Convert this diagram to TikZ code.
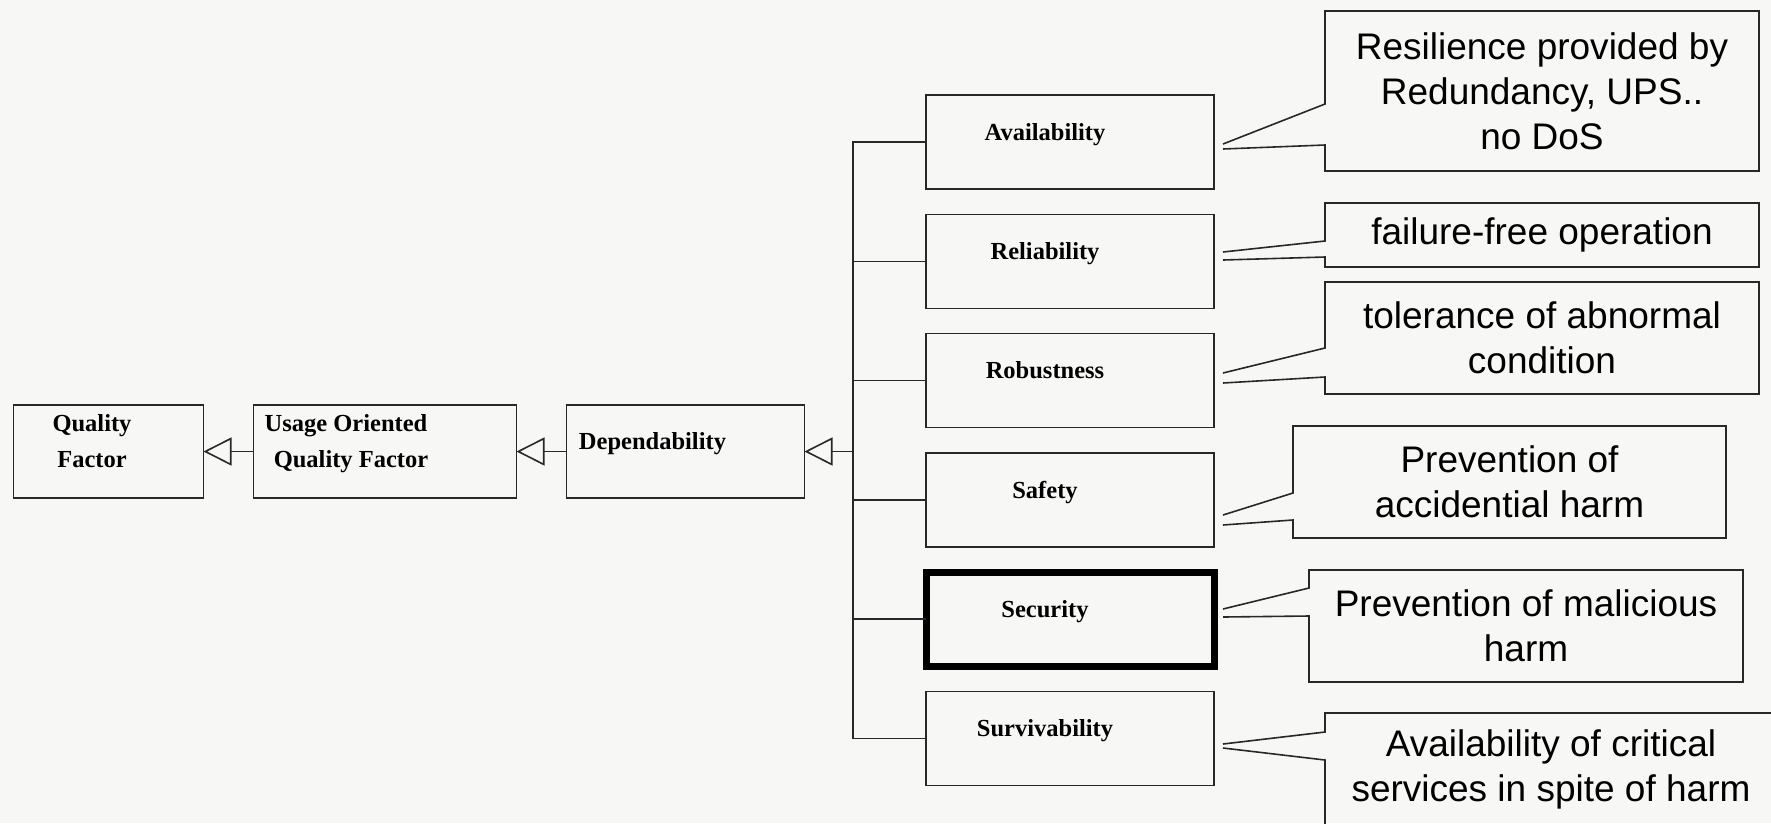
\documentclass[tikz,border=0pt]{standalone}
\usepackage{fontspec}
\setmainfont{Liberation Serif}
\newfontfamily\notefont{Liberation Sans}
\usetikzlibrary{positioning,arrows.meta}
\definecolor{paper}{RGB}{247,247,245}
\definecolor{ink}{RGB}{40,40,40}
\tikzset{
    box/.style={draw=ink, line width=1.6pt, outer sep=0pt, inner sep=0pt,
        font=\bfseries\fontsize{24.5}{36}\selectfont, text depth=21pt},
    sub/.style={box, minimum width=288pt, minimum height=94pt,
        execute at end node={\hspace*{50pt}}},
    note/.style={inner sep=0pt, outer sep=0pt, align=center,
        font=\notefont\fontsize{37}{45}\selectfont},
    line/.style={draw=ink, line width=1.6pt},
    inherit/.style={line, -{Triangle[open, length=28pt, width=28pt]}},
}
\begin{document}
\begin{tikzpicture}[x=1pt, y=-1pt]
    \useasboundingbox (0,0) rectangle (1771,823);
    \clip (0,0) rectangle (1771,823);
    \fill[paper] (0,0) rectangle (1771,823);

    % generalisation chain
    \node[box, align=center, minimum width=190pt, minimum height=93pt] (quality) at (108.5,451.5)
        {Quality\hspace*{33pt}\\Factor\hspace*{33pt}};
    \node[box, align=center, minimum width=263pt, minimum height=93pt, right=50pt of quality] (usage)
        {Usage Oriented\hspace*{78pt}\\Quality Factor\hspace*{68pt}};
    \node[box, minimum width=238pt, minimum height=93pt, right=50pt of usage] (depend)
        {Dependability\hspace*{66pt}};
    \coordinate (hub) at (853,451.5);

    % the six attributes
    \node[sub] (avail) at (1070,142) {Availability};
    \node[sub, below=25.3pt of avail] (reli) {Reliability};
    \node[sub, below=25.3pt of reli] (robust) {Robustness};
    \node[sub, below=25.3pt of robust] (safety) {Safety};
    \node[sub, below=25.3pt of safety, draw=black, line width=7pt] (secur) {Security};
    \node[sub, below=25.3pt of secur] (surv) {Survivability};

    \draw[inherit] (usage.west) -- (quality.east);
    \draw[inherit] (depend.west) -- (usage.east);
    \draw[inherit] (hub) -- (depend.east);
    \draw[line] (avail.west) -| (hub) |- (surv.west);
    \foreach \n in {reli,robust,safety,secur}
        \draw[line] (\n.west) -- (\n.west -| hub);

    % callouts
    \node[note, minimum width=434pt, minimum height=160pt] (availnote) at (1542,91)
        {Resilience provided by\\Redundancy, UPS..\\no DoS};
    \node[note, minimum width=434pt, minimum height=64pt] (relinote) at (1542,235)
        {failure-free operation};
    \node[note, minimum width=434pt, minimum height=112pt] (robustnote) at (1542,338)
        {tolerance of abnormal\\condition};
    \node[note, minimum width=433pt, minimum height=112pt] (safetynote) at (1509.5,482)
        {Prevention of\\accidential harm};
    \node[note, minimum width=434pt, minimum height=112pt] (securnote) at (1526,626)
        {Prevention of malicious\\harm};
    \node[note, minimum width=452pt, minimum height=112pt] (survnote) at (1551,769)
        {Availability of critical\\services in spite of harm};

    \coordinate (avail-tip1) at (1223,144);
    \coordinate (avail-tip2) at (1223,149);
    \coordinate (reli-tip1) at (1223,252);
    \coordinate (reli-tip2) at (1223,260);
    \coordinate (robust-tip1) at (1223,373);
    \coordinate (robust-tip2) at (1223,383);
    \coordinate (safety-tip1) at (1223,515);
    \coordinate (safety-tip2) at (1223,525);
    \coordinate (secur-tip1) at (1223,609);
    \coordinate (secur-tip2) at (1223,617);
    \coordinate (surv-tip1) at (1223,744);
    \coordinate (surv-tip2) at (1223,748);

    \draw[line] (avail-tip1) -- ([yshift=-93pt]availnote.north west) -- (availnote.north west) -- (availnote.north east)
        -- (availnote.south east) -- (availnote.south west) -- ([yshift=-134pt]availnote.north west) -- (avail-tip2);
    \draw[line] (reli-tip1) -- ([yshift=-38pt]relinote.north west) -- (relinote.north west) -- (relinote.north east)
        -- (relinote.south east) -- (relinote.south west) -- ([yshift=-54pt]relinote.north west) -- (reli-tip2);
    \draw[line] (robust-tip1) -- ([yshift=-66pt]robustnote.north west) -- (robustnote.north west) -- (robustnote.north east)
        -- (robustnote.south east) -- (robustnote.south west) -- ([yshift=-95pt]robustnote.north west) -- (robust-tip2);
    \draw[line] (safety-tip1) -- ([yshift=-67pt]safetynote.north west) -- (safetynote.north west) -- (safetynote.north east)
        -- (safetynote.south east) -- (safetynote.south west) -- ([yshift=-94pt]safetynote.north west) -- (safety-tip2);
    \draw[line] (secur-tip1) -- ([yshift=-18pt]securnote.north west) -- (securnote.north west) -- (securnote.north east)
        -- (securnote.south east) -- (securnote.south west) -- ([yshift=-46pt]securnote.north west) -- (secur-tip2);
    \draw[line] (surv-tip1) -- ([yshift=-19pt]survnote.north west) -- (survnote.north west) -- (survnote.north east)
        -- (survnote.south east) -- (survnote.south west) -- ([yshift=-47pt]survnote.north west) -- (surv-tip2);
\end{tikzpicture}
\end{document}
